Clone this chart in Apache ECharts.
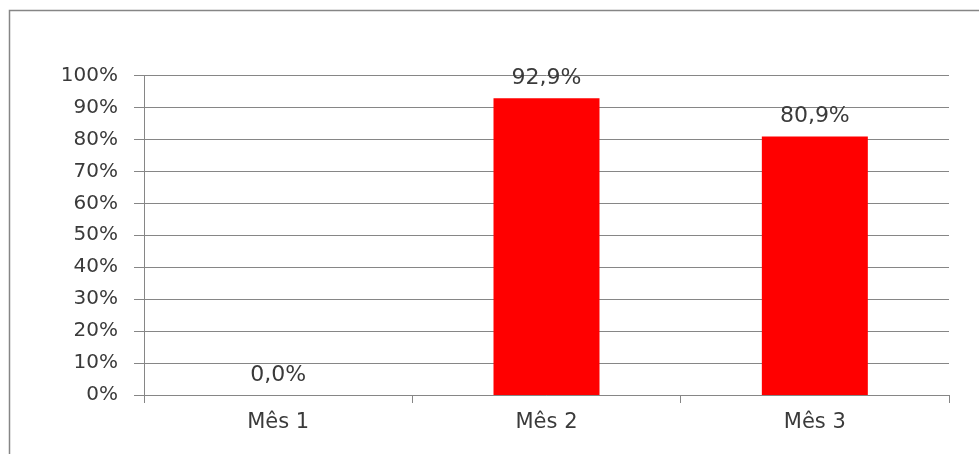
<!DOCTYPE html>
<html>
<head>
<meta charset="utf-8">
<script src="https://cdn.jsdelivr.net/npm/echarts@6/dist/echarts.min.js"></script>
<style>
  html, body { margin: 0; padding: 0; background: #fff; }
  #chart { width: 979px; height: 454px; }
</style>
</head>
<body>
<div id="chart"></div>
<script>
// Monthly percentage per period
const months = ['Mês 1', 'Mês 2', 'Mês 3'];
const percentValues = [0.0, 92.9, 80.9];
const yTicks = [0, 10, 20, 30, 40, 50, 60, 70, 80, 90, 100];

const textColor = '#3a3a3a';
const lineColor = '#868686';
const fontFamily = '"DejaVu Sans", Verdana, sans-serif';

const chart = echarts.init(document.getElementById('chart'));
chart.setOption({
  animation: false,
  backgroundColor: '#ffffff',
  graphic: [{
    type: 'rect',
    shape: { x: 9.5, y: 10.5, width: 1000, height: 600 },
    style: { fill: 'none', stroke: lineColor, lineWidth: 1.5 },
    silent: true
  }],
  grid: { left: 144, right: 30, top: 75.5, bottom: 59, containLabel: false },
  xAxis: {
    type: 'category',
    data: months,
    axisLine: { lineStyle: { color: lineColor, width: 1 } },
    axisTick: { show: true, length: 8, alignWithLabel: false, lineStyle: { color: lineColor } },
    axisLabel: { color: textColor, fontSize: 21, fontFamily, margin: 17 }
  },
  yAxis: {
    type: 'value',
    min: yTicks[0],
    max: yTicks[yTicks.length - 1],
    interval: 10,
    axisLine: { show: true, lineStyle: { color: lineColor, width: 1 } },
    axisTick: { show: true, length: 10, lineStyle: { color: lineColor } },
    splitLine: { show: true, lineStyle: { color: lineColor, width: 1 } },
    axisLabel: {
      color: textColor, fontSize: 20, fontFamily, margin: 26,
      padding: [3, 0, 0, 0],
      formatter: v => v + '%'
    }
  },
  series: [{
    type: 'bar',
    data: percentValues,
    barWidth: '39.5%',
    itemStyle: { color: '#ff0000' },
    label: {
      show: true,
      position: 'top',
      distance: 9,
      color: textColor,
      fontSize: 22,
      fontFamily,
      formatter: p => p.value.toFixed(1).replace('.', ',') + '%'
    }
  }]
});
</script>
</body>
</html>
